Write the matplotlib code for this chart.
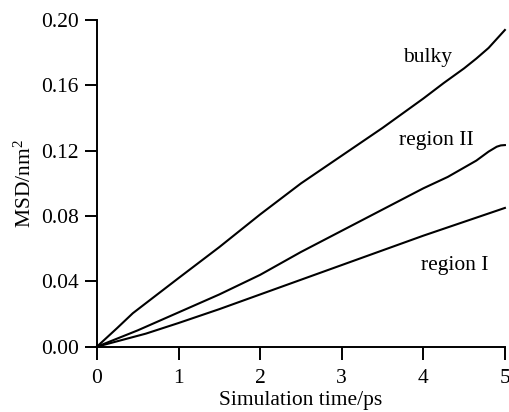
import matplotlib
matplotlib.use('Agg')
import matplotlib.pyplot as plt
from matplotlib.ticker import FormatStrFormatter

plt.rcParams.update({
    'font.family': 'serif',
    'font.serif': ['Liberation Serif', 'DejaVu Serif'],
    'mathtext.fontset': 'custom',
    'mathtext.rm': 'Liberation Serif',
    'mathtext.it': 'Liberation Serif:italic',
    'font.size': 15.5,
})

# MSD curves
t_bulky = [0, 0.25, 0.44, 1, 1.5, 2, 2.5, 3, 3.5, 4, 4.25, 4.5, 4.65, 4.8, 5]
msd_bulky = [0, 0.0115, 0.0205, 0.042, 0.061, 0.081, 0.100, 0.117, 0.134,
             0.152, 0.1615, 0.1705, 0.1765, 0.183, 0.194]

t_region2 = [0, 0.5, 1, 1.5, 2, 2.5, 3, 3.5, 4, 4.3, 4.65, 4.8, 4.9, 4.95, 5]
msd_region2 = [0, 0.010, 0.021, 0.032, 0.044, 0.058, 0.071, 0.084, 0.097,
               0.104, 0.114, 0.1195, 0.1225, 0.1233, 0.1235]

t_region1 = [0, 0.6, 1, 1.5, 2, 2.5, 3, 3.5, 4, 4.5, 5]
msd_region1 = [0, 0.008, 0.0145, 0.023, 0.032, 0.041, 0.050, 0.059, 0.068,
               0.0765, 0.085]

x_ticks = [0, 1, 2, 3, 4, 5]
y_ticks = [0.00, 0.04, 0.08, 0.12, 0.16, 0.20]

fig = plt.figure(figsize=(5.10, 4.12), dpi=100)
ax = fig.add_axes([0.190, 0.1585, 0.800, 0.7925])

for t, m in [(t_bulky, msd_bulky), (t_region2, msd_region2), (t_region1, msd_region1)]:
    ax.plot(t, m, color='black', lw=1.5, clip_on=False, solid_joinstyle='round')

ax.text(4.05, 0.177, 'bulky', ha='center', va='center')
ax.text(4.16, 0.1264, 'region II', ha='center', va='center')
ax.text(4.38, 0.050, 'region I', ha='center', va='center')

ax.set_xlim(0, 5)
ax.set_ylim(0, 0.20)
ax.set_xticks(x_ticks)
ax.set_yticks(y_ticks)
ax.yaxis.set_major_formatter(FormatStrFormatter('%.2f'))
ax.spines['top'].set_visible(False)
ax.spines['right'].set_visible(False)
for s in ('left', 'bottom'):
    ax.spines[s].set_linewidth(1.4)
ax.tick_params(direction='out', length=9, width=1.4, pad=4)
ax.tick_params(axis='x', pad=7)
ax.set_xlabel('Simulation time/ps', labelpad=2)
ax.set_ylabel('MSD/nm$^2$', labelpad=4)

fig.savefig('out.png', dpi=100)
